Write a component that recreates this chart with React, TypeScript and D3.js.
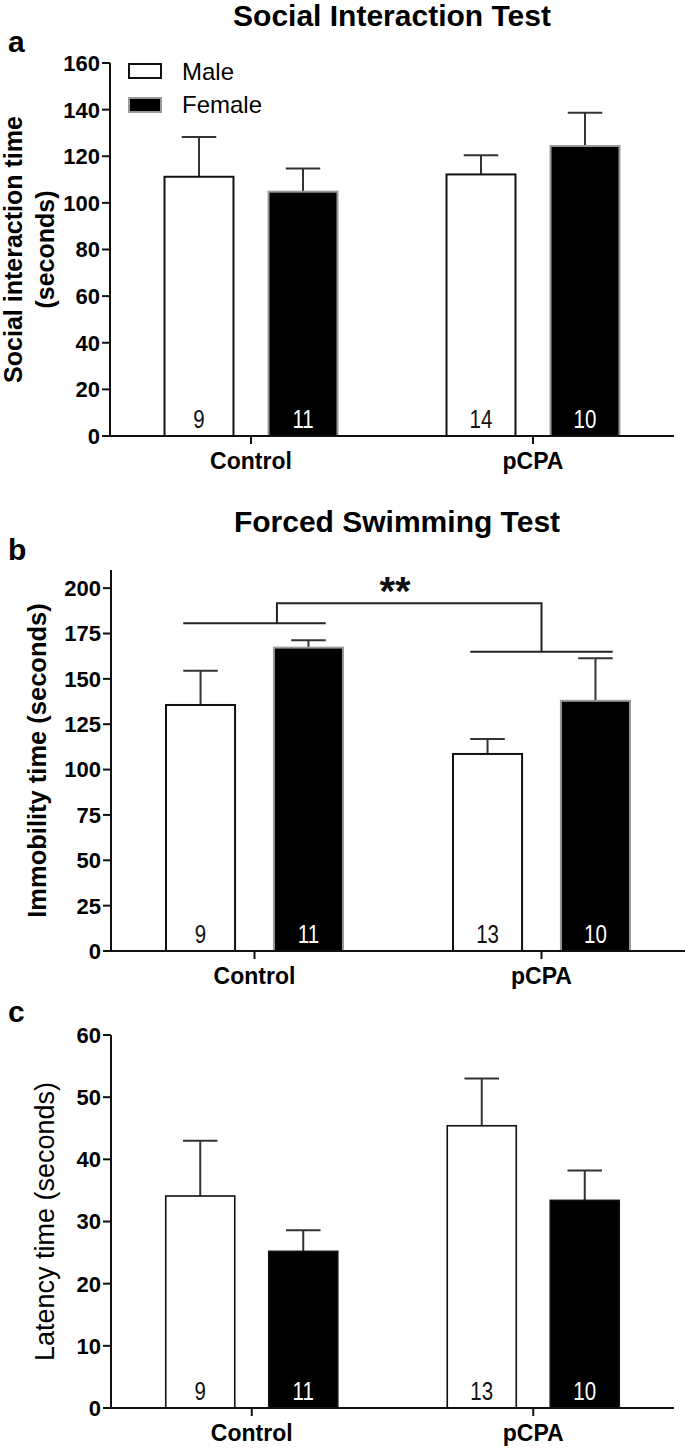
import React from "react";
import * as d3 from "d3";

const groups = ["Control", "pCPA"];
const sexes = ["Male", "Female"];

// a: social interaction test (seconds)
const socialMale = [111.2, 112.2];
const socialMaleSem = [17.1, 8.2];
const socialFemale = [104.8, 124.4];
const socialFemaleSem = [9.9, 14.3];
const socialMaleN = [9, 14];
const socialFemaleN = [11, 10];
const socialTicks = [0, 20, 40, 60, 80, 100, 120, 140, 160];

// b: forced swimming test, immobility (seconds)
const fstMale = [135.6, 108.6];
const fstMaleSem = [18.8, 8.2];
const fstFemale = [167.2, 137.9];
const fstFemaleSem = [4.1, 23.5];
const fstMaleN = [9, 13];
const fstFemaleN = [11, 10];
const fstTicks = [0, 25, 50, 75, 100, 125, 150, 175, 200];
// bracket levels: control line, pCPA line, top line
const fstBracket = [180.7, 165, 191.7];

// c: latency (seconds)
const latMale = [34.1, 45.4];
const latMaleSem = [8.9, 7.6];
const latFemale = [25.2, 33.4];
const latFemaleSem = [3.4, 4.8];
const latMaleN = [9, 13];
const latFemaleN = [11, 10];
const latTicks = [0, 10, 20, 30, 40, 50, 60];

const FONT = "'Liberation Sans', Arial, Helvetica, sans-serif";

type PanelProps = {
  male: number[];
  maleSem: number[];
  female: number[];
  femaleSem: number[];
  maleN: number[];
  femaleN: number[];
  ticks: number[];
  yMax: number;
  left: number;
  right: number;
  top: number;
  bottom: number;
  span: number;
  pad: number;
  femaleStroke: string;
  barStroke: number;
  label: string;
  labelY: number;
  yLabel: string[];
  yLabelX: number[];
  yLabelBold: boolean;
  yLabelSize: number;
  extra?: (
    x0: d3.ScalePoint<string>,
    x1: d3.ScaleBand<string>,
    y: d3.ScaleLinear<number, number>
  ) => React.ReactNode;
};

const Panel: React.FC<PanelProps> = (p) => {
  const x0 = d3.scalePoint<string>().domain(groups).range([p.left, p.right]).padding(0.5);
  const x1 = d3
    .scaleBand<string>()
    .domain(sexes)
    .range([-p.span / 2, p.span / 2])
    .paddingInner(p.pad);
  const y = d3.scaleLinear().domain([0, p.yMax]).range([p.bottom, p.top]);
  const bw = x1.bandwidth();
  const series = [
    { sex: "Male", values: p.male, sem: p.maleSem, n: p.maleN },
    { sex: "Female", values: p.female, sem: p.femaleSem, n: p.femaleN },
  ];
  const yMid = (p.top + p.bottom) / 2;

  return (
    <g fontFamily={FONT}>
      <text x={8} y={p.labelY} fontSize={30} fontWeight="bold">
        {p.label}
      </text>

      {groups.map((g, gi) =>
        series.map((s) => {
          const bx = (x0(g) as number) + (x1(s.sex) as number);
          const cx = bx + bw / 2;
          const v = s.values[gi];
          const top = y(v + s.sem[gi]);
          const female = s.sex === "Female";
          return (
            <g key={g + s.sex}>
              <line x1={cx} x2={cx} y1={y(v)} y2={top} stroke="#333" strokeWidth={2} />
              <line x1={cx - bw / 4} x2={cx + bw / 4} y1={top} y2={top} stroke="#333" strokeWidth={2} />
              <rect
                x={bx}
                y={y(v)}
                width={bw}
                height={y(0) - y(v)}
                fill={female ? "#000" : "#fff"}
                stroke={female ? p.femaleStroke : "#111"}
                strokeWidth={p.barStroke}
              />
              <text
                transform={`translate(${cx},${y(0) - 8}) scale(0.82,1)`}
                textAnchor="middle"
                fontSize={25}
                fill={female ? "#fff" : "#111"}
              >
                {s.n[gi]}
              </text>
            </g>
          );
        })
      )}

      {/* y axis */}
      <line x1={p.left} x2={p.left} y1={y(p.yMax)} y2={y(0)} stroke="#111" strokeWidth={2} />
      {p.ticks.map((t) => (
        <g key={t}>
          <line x1={p.left - 8} x2={p.left} y1={y(t)} y2={y(t)} stroke="#111" strokeWidth={2} />
          <text
            x={p.left - 10}
            y={y(t)}
            dy="0.36em"
            textAnchor="end"
            fontSize={22}
            fontWeight="bold"
          >
            {t}
          </text>
        </g>
      ))}

      {/* x axis */}
      <line x1={p.left} x2={p.right} y1={y(0)} y2={y(0)} stroke="#111" strokeWidth={2} />
      {groups.map((g) => (
        <g key={g}>
          <line x1={x0(g)} x2={x0(g)} y1={y(0)} y2={y(0) + 8} stroke="#111" strokeWidth={2} />
          <text x={x0(g)} y={y(0) + 33} textAnchor="middle" fontSize={23} fontWeight="bold">
            {g}
          </text>
        </g>
      ))}

      {p.yLabel.map((l, i) => (
        <text
          key={l}
          transform={`translate(${p.yLabelX[i]},${yMid}) rotate(-90)`}
          textAnchor="middle"
          fontSize={p.yLabelSize}
          fontWeight={p.yLabelBold ? "bold" : "normal"}
        >
          {l}
        </text>
      ))}

      {p.extra && p.extra(x0, x1, y)}
    </g>
  );
};

export default function App() {
  return (
    <div>
      <style>{`body{margin:0;background:#fff}`}</style>
      <svg width={685} height={1450} style={{ display: "block" }}>
        <rect width={685} height={1450} fill="#fff" />

        {/* panel a */}
        <text x={392} y={26} textAnchor="middle" fontFamily={FONT} fontSize={30} fontWeight="bold">
          Social Interaction Test
        </text>
        <Panel
          male={socialMale}
          maleSem={socialMaleSem}
          female={socialFemale}
          femaleSem={socialFemaleSem}
          maleN={socialMaleN}
          femaleN={socialFemaleN}
          ticks={socialTicks}
          yMax={160}
          left={110}
          right={674}
          top={63}
          bottom={436}
          span={173}
          pad={0.337}
          femaleStroke="#999"
          barStroke={2}
          label="a"
          labelY={52}
          yLabel={["Social interaction time", "(seconds)"]}
          yLabelX={[22, 54]}
          yLabelBold={true}
          yLabelSize={25}
          extra={() => (
            <g fontFamily={FONT}>
              {sexes.map((s, i) => (
                <g key={s}>
                  <rect
                    x={129}
                    y={64 + i * 34}
                    width={32}
                    height={14}
                    fill={i === 0 ? "#fff" : "#000"}
                    stroke={i === 0 ? "#111" : "#999"}
                    strokeWidth={2}
                  />
                  <text x={182} y={80 + i * 33} fontSize={24}>
                    {s}
                  </text>
                </g>
              ))}
            </g>
          )}
        />

        {/* panel b */}
        <text x={397} y={532} textAnchor="middle" fontFamily={FONT} fontSize={30} fontWeight="bold">
          Forced Swimming Test
        </text>
        <Panel
          male={fstMale}
          maleSem={fstMaleSem}
          female={fstFemale}
          femaleSem={fstFemaleSem}
          maleN={fstMaleN}
          femaleN={fstFemaleN}
          ticks={fstTicks}
          yMax={210}
          left={111}
          right={685}
          top={570}
          bottom={951}
          span={177}
          pad={0.36}
          femaleStroke="#999"
          barStroke={2}
          label="b"
          labelY={560}
          yLabel={["Immobility time (seconds)"]}
          yLabelX={[46]}
          yLabelBold={true}
          yLabelSize={25.5}
          extra={(x0, x1, y) => {
            const bw = x1.bandwidth();
            const cap = bw / 4;
            const lines = groups.map((g, i) => {
              const xm = (x0(g) as number) + (x1("Male") as number) + bw / 2 - cap;
              const xf = (x0(g) as number) + (x1("Female") as number) + bw / 2 + cap;
              return { xm, xf, yv: y(fstBracket[i]) };
            });
            const dropL = (x0("Control") as number) + (x1("Female") as number) + 3;
            const dropR = x0("pCPA") as number;
            const yTop = y(fstBracket[2]);
            return (
              <g stroke="#222" strokeWidth={2} fill="none">
                {lines.map((l, i) => (
                  <line key={i} x1={l.xm} x2={l.xf} y1={l.yv} y2={l.yv} />
                ))}
                <path d={`M${dropL},${lines[0].yv}V${yTop}H${dropR}V${lines[1].yv}`} />
                <text
                  x={395}
                  y={yTop + 2}
                  textAnchor="middle"
                  fontFamily={FONT}
                  fontSize={40}
                  fontWeight="bold"
                  fill="#111"
                  stroke="none"
                >
                  **
                </text>
              </g>
            );
          }}
        />

        {/* panel c */}
        <Panel
          male={latMale}
          maleSem={latMaleSem}
          female={latFemale}
          femaleSem={latFemaleSem}
          maleN={latMaleN}
          femaleN={latFemaleN}
          ticks={latTicks}
          yMax={60}
          left={111}
          right={674}
          top={1035}
          bottom={1408}
          span={172}
          pad={0.33}
          femaleStroke="#111"
          barStroke={1.6}
          label="c"
          labelY={1022}
          yLabel={["Latency time (seconds)"]}
          yLabelX={[54]}
          yLabelBold={false}
          yLabelSize={27}
        />
      </svg>
    </div>
  );
}
